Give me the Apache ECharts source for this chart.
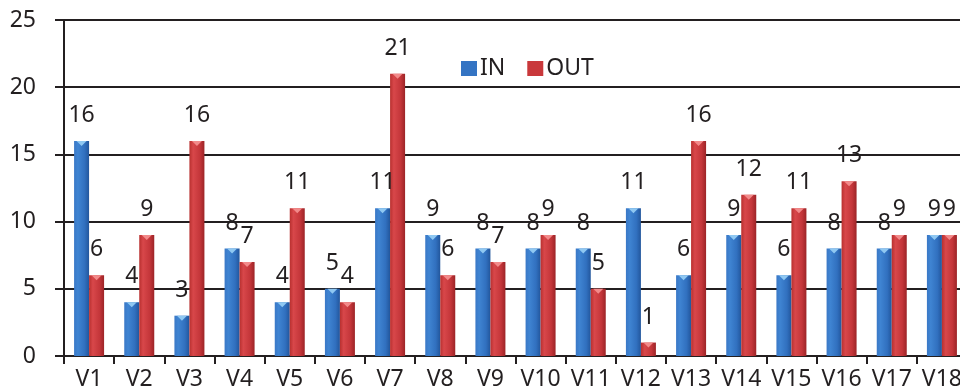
<!DOCTYPE html>
<html>
<head>
<meta charset="utf-8">
<script src="https://cdn.jsdelivr.net/npm/echarts@6/dist/echarts.min.js"></script>
<style>
html,body{margin:0;padding:0;background:#fff;}
#chart{width:960px;height:392px;}
</style>
</head>
<body>
<div id="chart"></div>
<script>
// Categories and values per series
const categories = ['V1','V2','V3','V4','V5','V6','V7','V8','V9','V10','V11','V12','V13','V14','V15','V16','V17','V18'];
const inValues  = [16, 4, 3, 8, 4, 5, 11, 9, 8, 8, 8, 11, 6, 9, 6, 8, 8, 9];
const outValues = [6, 9, 16, 7, 11, 4, 21, 6, 7, 9, 5, 1, 16, 12, 11, 13, 9, 9];
const yTicks = [0, 5, 10, 15, 20, 25];

const FONT = 'Noto Sans';
const INK = '#231f20';

// Horizontal bevel gradient for the cylinder-like bars
function bevel(c0, c1, c2, c3) {
  return new echarts.graphic.LinearGradient(0, 0, 1, 0, [
    { offset: 0, color: c0 },
    { offset: 0.25, color: c1 },
    { offset: 0.7, color: c2 },
    { offset: 1, color: c3 }
  ]);
}
const blueFill = bevel('#3a78c6', '#3f84d2', '#3170bf', '#22569c');
const redFill = bevel('#b8302f', '#d8474a', '#c4363a', '#9c2427');

const chart = echarts.init(document.getElementById('chart'), null, { renderer: 'canvas' });

const labelStyle = {
  show: true,
  position: 'top',
  distance: 14,
  fontSize: 23,
  fontFamily: FONT,
  color: INK
};

// Small down-pointing bevel cap drawn at the top of each bar
function capSeries(id, values, color) {
  return {
    id: id,
    type: 'pictorialBar',
    data: values,
    barWidth: 15,
    barGap: '0%',
    symbol: 'triangle',
    symbolRotate: 180,
    symbolPosition: 'end',
    symbolSize: [10, 5],
    symbolOffset: [0, 0],
    z: 5,
    silent: true,
    itemStyle: { color: color },
    label: { show: false }
  };
}

chart.setOption({
  animation: false,
  backgroundColor: '#ffffff',
  textStyle: { fontFamily: FONT },
  legend: {
    left: 456,
    top: 52,
    itemWidth: 16,
    itemHeight: 15,
    itemGap: 22,
    textStyle: { fontSize: 23, color: INK, fontFamily: FONT, padding: [0, 0, 0, -2] },
    data: [
      { name: 'IN', icon: 'rect', itemStyle: { color: '#3474c3' } },
      { name: 'OUT', icon: 'rect', itemStyle: { color: '#c9383b' } }
    ]
  },
  grid: {
    left: 64,
    top: 20,
    right: -7,
    bottom: 36,
    containLabel: false,
    outerBoundsMode: 'none'
  },
  xAxis: {
    type: 'category',
    data: categories,
    boundaryGap: true,
    axisLine: { show: true, lineStyle: { color: INK, width: 2 } },
    axisTick: { show: true, length: 8, lineStyle: { color: INK, width: 2 } },
    axisLabel: { fontSize: 23, color: INK, fontFamily: FONT, margin: 12, interval: 0 }
  },
  yAxis: {
    type: 'value',
    min: yTicks[0],
    max: yTicks[yTicks.length - 1],
    interval: 5,
    axisLine: { show: true, lineStyle: { color: INK, width: 2 } },
    axisTick: { show: true, length: 9, lineStyle: { color: INK, width: 2 } },
    axisLabel: { fontSize: 23, color: INK, fontFamily: FONT, margin: 28 },
    splitLine: { show: true, lineStyle: { color: INK, width: 2 } }
  },
  series: [
    {
      name: 'IN',
      type: 'bar',
      data: inValues,
      barWidth: 15,
      barGap: '0%',
      itemStyle: { color: blueFill },
      label: labelStyle
    },
    {
      name: 'OUT',
      type: 'bar',
      data: outValues,
      barWidth: 15,
      barGap: '0%',
      itemStyle: { color: redFill },
      label: labelStyle
    },
    capSeries('inCap', inValues, '#8fc8f2'),
    capSeries('outCap', outValues, '#f28a8a')
  ]
});
</script>
</body>
</html>
